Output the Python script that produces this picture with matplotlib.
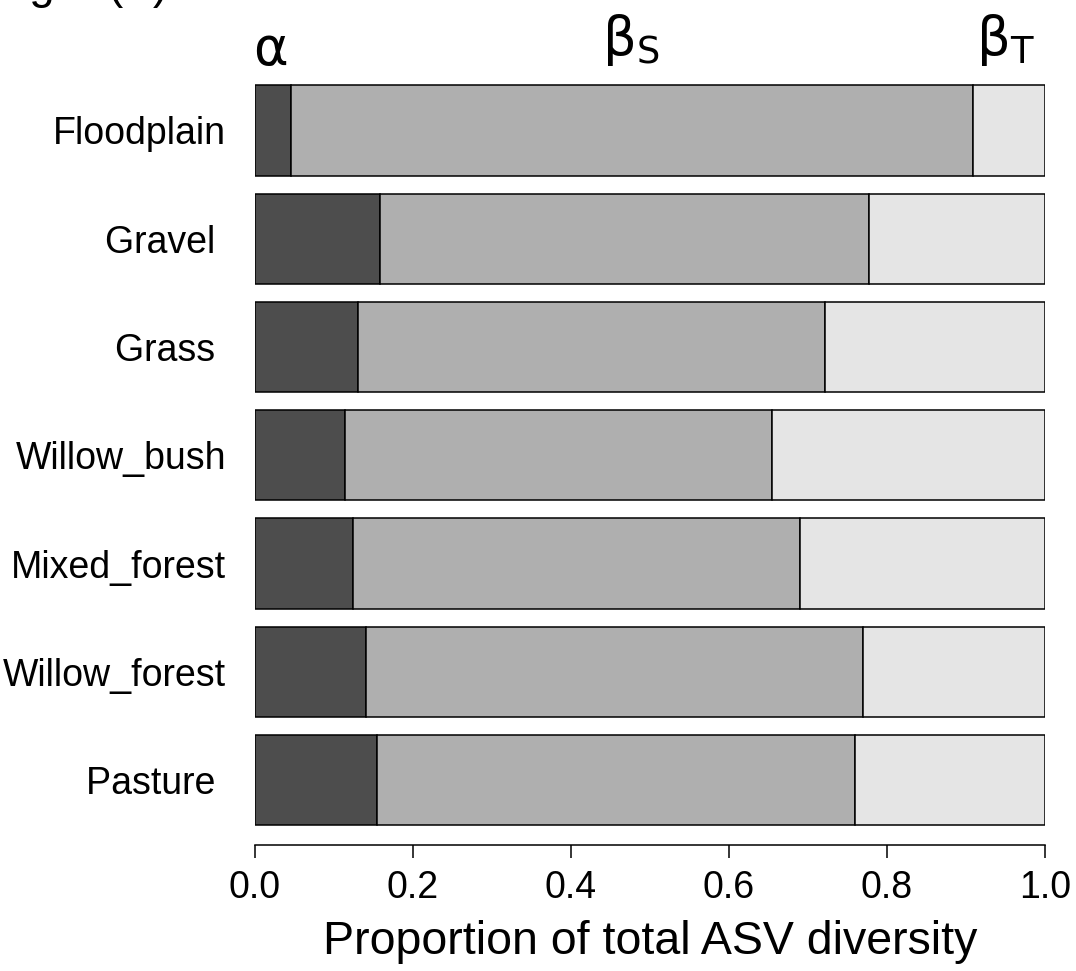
import numpy as np
import matplotlib
matplotlib.use("Agg")
import matplotlib.pyplot as plt
import matplotlib.transforms as mtransforms

# habitat names (trailing spaces as in the original labels)
habitats = ["Floodplain", "Gravel ", "Grass ", "Willow_bush",
            "Mixed_forest", "Willow_forest", "Pasture "]

# proportion of total ASV diversity per component
alpha = [0.045, 0.158, 0.130, 0.114, 0.124, 0.140, 0.154]
beta_s = [0.864, 0.619, 0.5915, 0.541, 0.566, 0.629, 0.605]
beta_t = [0.091, 0.223, 0.2785, 0.345, 0.310, 0.231, 0.241]

x_ticks = [0.0, 0.2, 0.4, 0.6, 0.8, 1.0]
headers = [r"$\alpha$", r"$\beta_\mathrm{S}$", r"$\beta_\mathrm{T}$"]
header_x = [0.019, 0.476, 0.950]
header_base = [65, 55, 55]  # baseline, pixels from top

cols = ["#4D4D4D", "#AFAFAF", "#E5E5E5"]

plt.rcParams["font.family"] = ["Liberation Sans", "DejaVu Sans"]
plt.rcParams["mathtext.fontset"] = "dejavusans"
plt.rcParams["mathtext.default"] = "regular"

W, H = 1076, 971
fig = plt.figure(figsize=(W / 100, H / 100), dpi=100)
ax = fig.add_axes([255 / W, 1 - 845 / H, 790 / W, (845 - 60) / H])

y = np.arange(len(habitats))
left = np.zeros(len(habitats))
for vals, c in zip([alpha, beta_s, beta_t], cols):
    ax.barh(y, vals, left=left, height=0.835, color=c,
            edgecolor="black", linewidth=1.1)
    left = left + np.array(vals)

ax.set_xlim(0, 1)
ax.set_ylim(6.60, -0.651)

for s in ["top", "right", "left"]:
    ax.spines[s].set_visible(False)
ax.spines["bottom"].set_linewidth(1.1)
ax.spines["bottom"].set_bounds(0, 1)

ax.set_xticks(x_ticks)
ax.set_xticklabels([f"{v:.1f}" for v in x_ticks], fontsize=27)
ax.tick_params(axis="x", length=9, width=1.1, pad=9)
ax.set_yticks(y)
ax.set_yticklabels(habitats, fontsize=27)
ax.tick_params(axis="y", length=0, pad=21)

ax.set_xlabel("Proportion of total ASV diversity", fontsize=33.5, labelpad=10)

trans = mtransforms.blended_transform_factory(ax.transData, fig.transFigure)
for lab, xp, yb in zip(headers, header_x, header_base):
    ax.text(xp, 1 - yb / H, lab, transform=trans, ha="center",
            va="baseline", fontsize=38, family="DejaVu Sans")

# panel label, mostly cut off at the top edge
fig.text(55 / W, 1 + 2 / H, "Fig", ha="right", va="baseline", fontsize=33)
fig.text(107 / W, 1 + 2 / H, "(A)", ha="left", va="baseline", fontsize=33)

fig.savefig("out.png", dpi=100)
